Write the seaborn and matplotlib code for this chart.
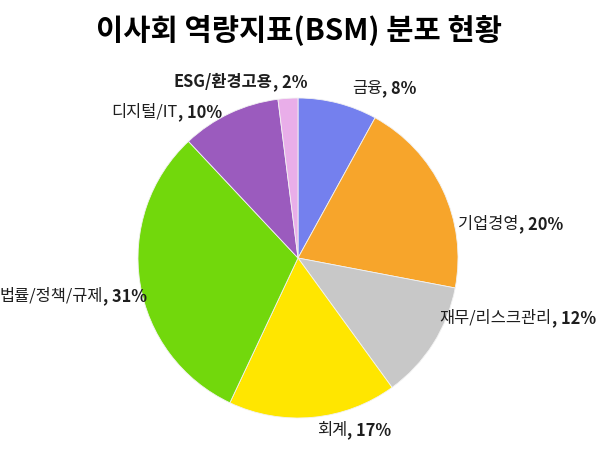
import matplotlib
matplotlib.use("Agg")
import matplotlib.pyplot as plt
import seaborn as sns

sns.set_theme(style="white")
plt.rcParams['font.family'] = ['Noto Sans CJK KR', 'DejaVu Sans']

categories = ["금융", "기업경영", "재무/리스크관리", "회계", "법률/정책/규제", "디지털/IT", "ESG/환경고용"]
values = [8, 20, 12, 17, 31, 10, 2]
colors = ["#7480EE", "#F7A52B", "#C8C8C8", "#FFE600", "#72D80C", "#9B5BBE", "#E9AEE9"]
label_pos = [(0.54, 1.06), (1.33, 0.21), (1.375, -0.375), (0.35, -1.075),
             (-1.405, -0.24), (-0.82, 0.91), (-0.36, 1.10)]
name_weights = ["medium", "medium", "medium", "medium", "medium", "medium", "bold"]

W, H = 597, 457
cx, cy, R = 298, 258, 160
fig = plt.figure(figsize=(W / 100, H / 100), dpi=100)
ax = fig.add_axes([0, 0, 1, 1])
ax.pie(values, colors=colors, startangle=90, counterclock=False, radius=1,
       wedgeprops=dict(edgecolor="#F2F2F2", linewidth=0.6))
ax.set_xlim(-cx / R, (W - cx) / R)
ax.set_ylim(-(H - cy) / R, cy / R)
ax.set_aspect("equal")
ax.axis("off")

renderer = fig.canvas.get_renderer()
inv = ax.transData.inverted()
for cat, v, (x, y), wt in zip(categories, values, label_pos, name_weights):
    fs = 11.8
    t1 = ax.text(0, 0, cat, fontsize=fs, color="#1E1E1E", va="center", ha="left",
                 fontweight=wt)
    t2 = ax.text(0, 0, f", {v}%", fontsize=fs, color="#1E1E1E", va="center",
                 ha="left", fontweight="bold")
    w1 = t1.get_window_extent(renderer).width
    w2 = t2.get_window_extent(renderer).width
    px, py = ax.transData.transform((x, y))
    left = px - (w1 + w2) / 2
    t1.set_position(inv.transform((left, py)))
    t2.set_position(inv.transform((left + w1, py)))

fig.text(0.5, 1 - 30 / H, "이사회 역량지표(BSM) 분포 현황", ha="center", va="center",
         fontsize=21.3, fontweight="bold", color="black")

fig.savefig("out.png", dpi=100)
